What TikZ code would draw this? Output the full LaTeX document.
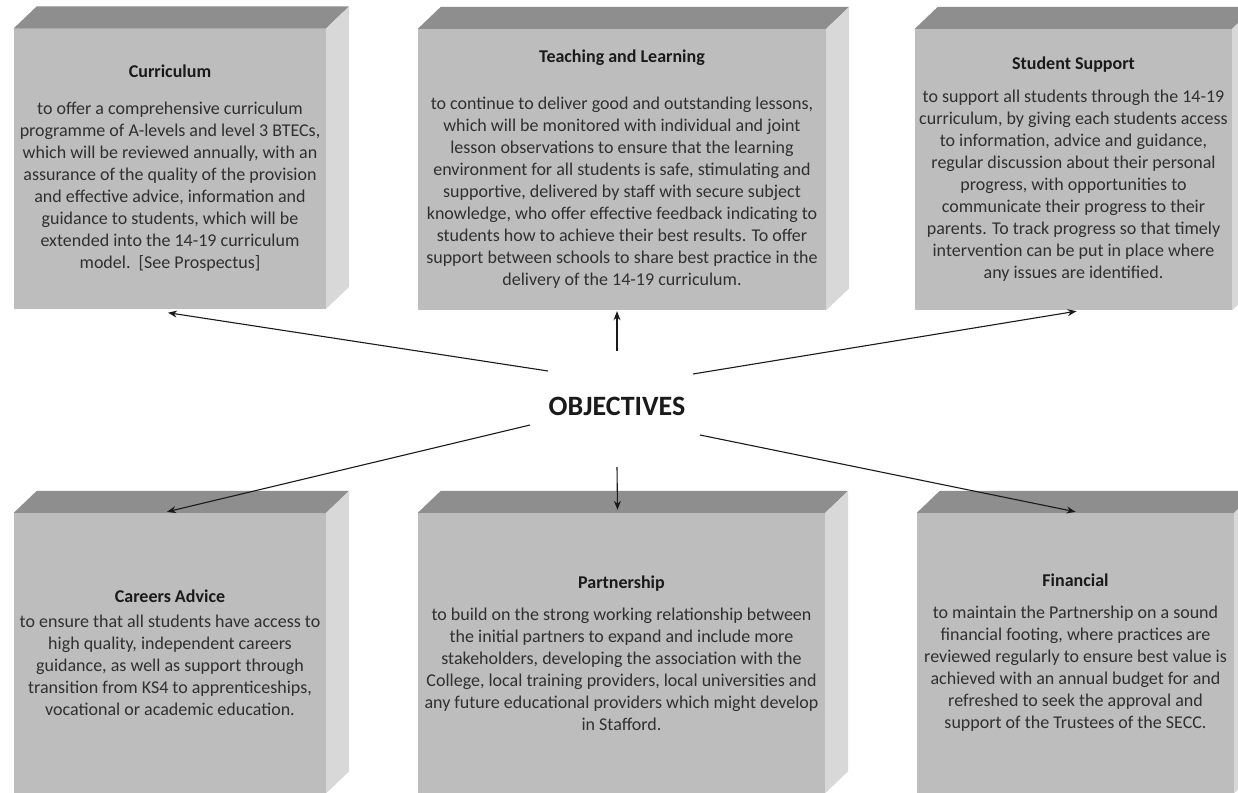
\documentclass[tikz,border=0pt]{standalone}
\usepackage{fontspec}
\setmainfont{Carlito}
\usetikzlibrary{arrows.meta}
\definecolor{frontc}{HTML}{BDBDBD}
\definecolor{topc}{HTML}{8E8E8E}
\definecolor{sidec}{HTML}{D8D8D8}
\definecolor{titlec}{HTML}{1A1A1A}
\definecolor{bodyc}{HTML}{303030}
\definecolor{arrowc}{HTML}{1A1A1A}
\tikzset{
  frontbox/.style={rectangle, fill=frontc, inner sep=0pt, align=center,
    text=bodyc, font=\fontsize{18}{22}\selectfont},
  topface/.style={fill=topc},
  sideface/.style={fill=sidec},
  objarrow/.style={draw=arrowc, line width=1.1pt, -{Stealth[length=9pt,width=7pt]}},
  objlabel/.style={font=\bfseries\fontsize{28}{32}\selectfont, text=titlec, inner sep=0pt}
}
\newcommand{\boxtitle}[1]{\textcolor{titlec}{\bfseries #1}}
\newcommand{\faces}[1]{%
  \fill[topface] (#1.north west) -- ++(23,-22) -- ($(#1.north east)+(23,-22)$) -- (#1.north east) -- cycle;
  \fill[sideface] (#1.north east) -- ++(23,-22) -- ($(#1.south east)+(23,-22)$) -- (#1.south east) -- cycle;
}
\usetikzlibrary{calc}
\begin{document}
\begin{tikzpicture}[x=1pt,y=-1pt]
\useasboundingbox (0,0) rectangle (1238,792);
\fill[white] (0,0) rectangle (1238,792);
\clip (0,0) rectangle (1238,792);

% top row
\node[frontbox, minimum width=312pt, minimum height=280pt] (cur) at (170,168.5)
  {\boxtitle{Curriculum}\\[15pt]
   to offer a comprehensive curriculum\\
   programme of A-levels and level 3 BTECs,\\
   which will be reviewed annually, with an\\
   assurance of the quality of the provision\\
   and effective advice, information and\\
   guidance to students, which will be\\
   extended into the 14-19 curriculum\\
   model.\ \ [See Prospectus]};
\faces{cur}

\node[frontbox, minimum width=408pt, minimum height=281pt] (teach) at (622,169.5)
  {\boxtitle{Teaching and Learning}\\[25pt]
   to continue to deliver good and outstanding lessons,\\
   which will be monitored with individual and joint\\
   lesson observations to ensure that the learning\\
   environment for all students is safe, stimulating and\\
   supportive, delivered by staff with secure subject\\
   knowledge, who offer effective feedback indicating to\\
   students how to achieve their best results. To offer\\
   support between schools to share best practice in the\\
   delivery of the 14-19 curriculum.};
\faces{teach}

\node[frontbox, minimum width=317pt, minimum height=281pt] (stud) at (1073.5,169.5)
  {\boxtitle{Student Support}\\[11pt]
   to support all students through the 14-19\\
   curriculum, by giving each students access\\
   to information, advice and guidance,\\
   regular discussion about their personal\\
   progress, with opportunities to\\
   communicate their progress to their\\
   parents. To track progress so that timely\\
   intervention can be put in place where\\
   any issues are identified.};
\faces{stud}

% bottom row
\node[frontbox, minimum width=312pt, minimum height=280pt] (care) at (170,653)
  {\boxtitle{Careers Advice}\\[3pt]
   to ensure that all students have access to\\
   high quality, independent careers\\
   guidance, as well as support through\\
   transition from KS4 to apprenticeships,\\
   vocational or academic education.};
\faces{care}

\node[frontbox, minimum width=407pt, minimum height=280pt] (part) at (621.5,653)
  {\boxtitle{Partnership}\\[10pt]
   to build on the strong working relationship between\\
   the initial partners to expand and include more\\
   stakeholders, developing the association with the\\
   College, local training providers, local universities and\\
   any future educational providers which might develop\\
   in Stafford.};
\faces{part}

\node[frontbox, minimum width=317pt, minimum height=280pt] (fin) at (1075.5,653)
  {\boxtitle{Financial}\\[10pt]
   to maintain the Partnership on a sound\\
   financial footing, where practices are\\
   reviewed regularly to ensure best value is\\
   achieved with an annual budget for and\\
   refreshed to seek the approval and\\
   support of the Trustees of the SECC.};
\faces{fin}

% centre
\node[objlabel] (obj) at (617,406) {OBJECTIVES};
\coordinate (s1) at (548,371);
\coordinate (s2) at (617,351);
\coordinate (s3) at (693,374);
\coordinate (s4) at (530,425);
\coordinate (s5) at (617,467);
\coordinate (s6) at (700,435);

\draw[objarrow] (s1) -- ([xshift=-2pt,yshift=-4pt]cur.south);
\draw[objarrow] (s2) -- ([xshift=-5pt,yshift=-1pt]teach.south);
\draw[objarrow] (s3) -- ([xshift=3pt,yshift=-1pt]stud.south);
\draw[objarrow] (s4) -- ([xshift=-3pt,yshift=1pt]care.north);
\draw[objarrow] (s5) -- ([xshift=-4pt,yshift=3pt]part.north);
\draw[objarrow] (s6) -- ([xshift=0pt,yshift=1pt]fin.north);
\end{tikzpicture}
\end{document}
